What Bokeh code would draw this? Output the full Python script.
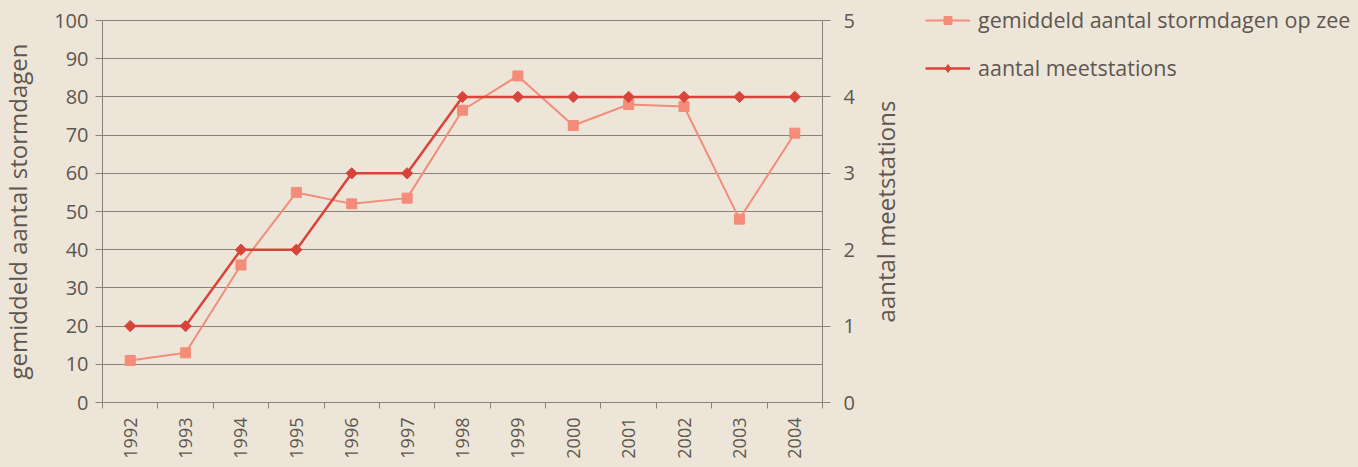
import math
from bokeh.plotting import figure
from bokeh.layouts import row
from bokeh.models import (Range1d, LinearAxis, FixedTicker, Legend, LegendItem, Label)
from bokeh.embed import file_html
from bokeh.resources import INLINE

years = ["1992", "1993", "1994", "1995", "1996", "1997", "1998",
         "1999", "2000", "2001", "2002", "2003", "2004"]
stormdagen = [11, 13, 36, 55, 52, 53.5, 76.5, 85.5, 72.5, 78, 77.5, 48, 70.5]
meetstations = [1, 1, 2, 2, 3, 3, 4, 4, 4, 4, 4, 4, 4]
left_ticks = [0, 10, 20, 30, 40, 50, 60, 70, 80, 90, 100]
right_ticks = [0, 1, 2, 3, 4, 5]
title_left = "gemiddeld aantal stormdagen"
label_storm = "gemiddeld aantal stormdagen op zee"
label_stat = "aantal meetstations"

FONT = "Open Sans"
BG = "#ede6d8"
GRID = "#8c8178"
TXT = "#5e5650"
C_STORM = "#f48c7a"
C_STAT = "#d8443a"

H = 467
FRAME_TOP = 20      # pixel row of the top of the value axes
FRAME_BOT = 402     # pixel row of the x axis
ext = FRAME_BOT / (FRAME_BOT - FRAME_TOP)
W_R, W_P, W_Q1 = 50, 812, 58
W_Q2 = 1358 - W_R - W_P - W_Q1


def blank(width, x_range=None):
    f = figure(width=width, height=H, output_backend="svg", toolbar_location=None,
               x_range=x_range or Range1d(0, 1), y_range=Range1d(0, 100 * ext),
               min_border_left=0, min_border_right=0, min_border_top=0,
               min_border_bottom=H - FRAME_BOT)
    f.background_fill_color = BG
    f.border_fill_color = BG
    f.outline_line_color = None
    f.styles = {"background-color": BG}
    f.grid.visible = False
    f.xaxis.visible = False
    f.yaxis.visible = False
    return f


xs = [i + 0.5 for i in range(len(years))]

p = figure(width=W_P, height=H, output_backend="svg", toolbar_location=None,
           x_range=Range1d(0, len(years)), y_range=Range1d(0, 100 * ext),
           min_border_left=102 - W_R, min_border_right=40, min_border_top=0,
           min_border_bottom=H - FRAME_BOT)
p.extra_y_ranges = {"st": Range1d(0, 5 * ext)}
p.background_fill_color = BG
p.border_fill_color = BG
p.outline_line_color = None
p.styles = {"background-color": BG}

# x axis
xa = p.xaxis[0]
xa.ticker = FixedTicker(ticks=xs, minor_ticks=list(range(len(years) + 1)))
xa.major_label_overrides = {x: y for x, y in zip(xs, years)}
xa.major_label_orientation = math.pi / 2
xa.major_tick_out = 0
xa.major_tick_in = 0
xa.minor_tick_out = 6
xa.minor_tick_in = 0
xa.minor_tick_line_color = GRID
xa.axis_line_color = GRID
xa.major_label_text_font = FONT
xa.major_label_text_font_size = "18px"
xa.major_label_text_color = TXT
xa.major_label_standoff = 9
p.xgrid.visible = False

# left axis
ya = p.yaxis[0]
ya.ticker = FixedTicker(ticks=left_ticks)
ya.bounds = (0, 100)
ya.minor_tick_line_color = None
ya.major_tick_out = 7
ya.major_tick_in = 0
ya.major_tick_line_color = GRID
ya.axis_line_color = GRID
ya.major_label_text_font = FONT
ya.major_label_text_font_size = "20px"
ya.major_label_text_color = TXT
ya.major_label_standoff = 7
p.ygrid.ticker = FixedTicker(ticks=left_ticks)
p.ygrid.grid_line_color = GRID
p.ygrid.grid_line_width = 1

# right axis (ticks + numbers)
ra = LinearAxis(y_range_name="st", ticker=FixedTicker(ticks=right_ticks), bounds=(0, 5))
ra.minor_tick_line_color = None
ra.major_tick_out = 8
ra.major_tick_in = 0
ra.major_tick_line_color = GRID
ra.axis_line_color = GRID
ra.major_label_text_font = FONT
ra.major_label_text_font_size = "20px"
ra.major_label_text_color = TXT
ra.major_label_standoff = 13
p.add_layout(ra, "right")

p.line(xs, stormdagen, line_color=C_STORM, line_width=2)
p.scatter(xs, stormdagen, marker="square", size=10, fill_color=C_STORM,
          line_color=C_STORM)
p.line(xs, meetstations, y_range_name="st", line_color=C_STAT, line_width=2.5)
p.scatter(xs, meetstations, y_range_name="st", marker="square", angle=math.pi / 4,
          size=8, fill_color=C_STAT, line_color=C_STAT)

# left strip: left axis title
r = blank(W_R)
r.add_layout(Label(text=title_left, x=16.5, x_units="screen", y=50, y_units="data",
                   angle=math.pi / 2, text_align="center", text_baseline="alphabetic",
                   text_font=FONT, text_font_size="24px", text_color=TXT))

# strip right of the chart: right axis title
q1 = blank(W_Q1)
q1.add_layout(Label(text=label_stat, x=22.5, x_units="screen", y=50, y_units="data",
                    angle=math.pi / 2, text_align="center", text_baseline="alphabetic",
                    text_font=FONT, text_font_size="24px", text_color=TXT))

# legend panel
q2 = blank(W_Q2, x_range=Range1d(-2, -1))
# legend swatches (outside q2's visible range; only used by the legend)
gl1 = q2.line(xs, stormdagen, line_color=C_STORM, line_width=2)
gm1 = q2.scatter(xs, stormdagen, marker="square", size=8, fill_color=C_STORM, line_color=C_STORM)
gl2 = q2.line(xs, meetstations, line_color=C_STAT, line_width=2.5)
gm2 = q2.scatter(xs, meetstations, marker="diamond", size=11, fill_color=C_STAT, line_color=C_STAT)

legend = Legend(items=[
    LegendItem(label=label_storm, renderers=[gl1, gm1]),
    LegendItem(label=label_stat, renderers=[gl2, gm2]),
], location="top_left")
legend.background_fill_alpha = 0
legend.border_line_color = None
legend.label_text_font = FONT
legend.label_text_font_size = "21.5px"
legend.label_text_color = TXT
legend.glyph_width = 45
legend.glyph_height = 20
legend.label_height = 20
legend.spacing = 19
legend.padding = 0
legend.margin = 5
legend.label_standoff = 8
q2.add_layout(legend, "center")

layout = row(r, p, q1, q2, spacing=0, styles={"background-color": BG})
open("out.html", "w").write(file_html(layout, INLINE))
